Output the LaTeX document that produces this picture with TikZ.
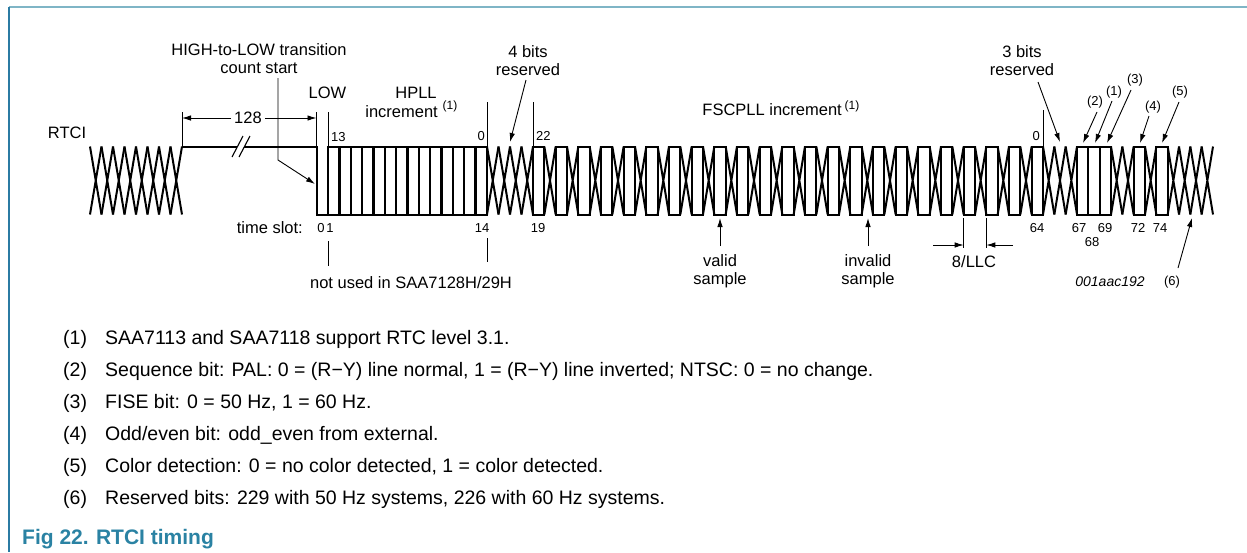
\documentclass[tikz,border=0pt]{standalone}
\usepackage{fontspec}
\setmainfont{Liberation Sans}
\usetikzlibrary{arrows.meta}
\definecolor{frametop}{HTML}{7FB5C6}
\definecolor{frameleft}{HTML}{2B7BA3}
\definecolor{figcol}{HTML}{2A82A3}
\newcommand\sigX[2]{\draw[sig] (#1,146.5) -- ({#1+#2},214.5) (#1,214.5) -- ({#1+#2},146.5);}
\newcommand\sigBox[2]{\draw[sig] (#1,146.5) rectangle ({#1+#2},214.5);}
\begin{document}
\begin{tikzpicture}[x=1pt,y=-1pt,
  sig/.style={line width=2pt, line join=miter},
  thinl/.style={line width=0.9pt},
  arr/.style={line width=0.9pt,-{Latex[length=9pt,width=5.5pt]}},
  lab/.style={font=\fontsize{16.5}{18}\selectfont, inner sep=0pt},
  num/.style={font=\fontsize{13}{15}\selectfont, inner sep=0pt},
  sup/.style={font=\fontsize{12}{14}\selectfont, inner sep=0pt},
  note/.style={font=\fontsize{19.5}{21}\selectfont, inner sep=0pt, anchor=base west}]
\useasboundingbox (0,0) rectangle (1247,552);
% frame
\draw[frametop, line width=2.5pt] (9,7) -- (1247,7);
\draw[frameleft, line width=1.2pt] (9,7) -- (9,552);
% left crosshatch
\foreach \i in {0,...,7} {\pgfmathsetmacro\xa{90+\i*11.5}\sigX{\xa}{11.5}}
% high line with break
\draw[sig] (182,146.5) -- (237,146.5);
\draw[sig] (244,146.5) -- (316.5,146.5) -- (316.5,214.5) -- (328,214.5) -- (328,146.5);
\draw[line width=1.1pt] (232,157) -- (243,136);
\draw[line width=1.1pt] (239,157) -- (250,136);
% HPLL slots
\draw[sig] (328,146.5) rectangle (487,214.5);
\foreach \i in {1,...,13} {\pgfmathsetmacro\xa{328+\i*159/14}\draw[line width=2.4pt] (\xa,146.5) -- (\xa,214.5);}
% 4 bits reserved
\foreach \i in {0,...,3} {\pgfmathsetmacro\xa{487+\i*11.5}\sigX{\xa}{11.5}}
% FSCPLL
\foreach \i in {0,...,22} {\pgfmathsetmacro\xa{533+2*\i*11.3333}\sigBox{\xa}{11.3333}}
\foreach \i in {0,...,21} {\pgfmathsetmacro\xa{533+(2*\i+1)*11.3333}\sigX{\xa}{11.3333}}
% 3 bits reserved
\foreach \i in {0,...,2} {\pgfmathsetmacro\xa{1043+\i*11.3333}\sigX{\xa}{11.3333}}
% bits 67-69
\draw[sig] (1077,146.5) rectangle (1111,214.5);
\draw[sig] (1088.33,146.5) -- (1088.33,214.5) (1099.67,146.5) -- (1099.67,214.5);
\sigX{1111}{11.3333}
\sigX{1122.33}{11.3333}
\sigBox{1133.67}{11.3333}
\sigX{1145}{11.3333}
\sigBox{1156.33}{11.3333}
\foreach \i in {0,...,3} {\pgfmathsetmacro\xa{1167.67+\i*11.3333}\sigX{\xa}{11.3333}}
% markers and labels
\node[lab] (rtci) at (67,133) {RTCI};
\node[lab, align=center] (hl) at (259,59) {HIGH-to-LOW transition\\count start};
\draw[arr] (278,78) -- (278,160) -- (315,184);
\draw[thinl] (182,112) -- (182,146.5);
\draw[thinl] (316.5,112) -- (316.5,146.5);
\draw[thinl] (328,112) -- (328,146.5);
\node[lab] (n128) at (248,118) {128};
\draw[arr] (n128.west) ++(-3,0) -- (182,118);
\draw[arr] (n128.east) ++(3,0) -- (316.5,118);
\node[lab] (low) at (327.5,93) {LOW};
\node[num, anchor=west] (n13) at (331,137) {13};
\node[lab] (hpll) at (416,93) {HPLL};
\node[lab, anchor=east] (incr) at (438,112) {increment};
\node[sup] (s1) at (450,106) {(1)};
\draw[thinl] (487,102) -- (487,146.5);
\node[num, anchor=east] (z1) at (485,136) {0};
\draw[thinl] (533,102) -- (533,146.5);
\node[num, anchor=west] (n22) at (536,136) {22};
\node[lab, align=center] (r4) at (528,61) {4 bits\\reserved};
\draw[arr] (526,80) -- (510,142);
\node[lab, anchor=east] (fsc) at (842,110) {FSCPLL increment};
\node[sup] (s2) at (852,106) {(1)};
\node[lab, align=center] (r3) at (1022,61) {3 bits\\reserved};
\draw[arr] (1038,82) -- (1060,142);
\draw[thinl] (1043,110) -- (1043,146.5);
\node[num, anchor=east] (z2) at (1040,136) {0};
\node[num] (f2) at (1095,102) {(2)};
\draw[arr] (1097,112) -- (1083,143);
\node[num] (f1) at (1114,92) {(1)};
\draw[arr] (1112,101) -- (1095,143);
\node[num] (f3) at (1135,80) {(3)};
\draw[arr] (1131,90) -- (1107,143);
\node[num] (f4) at (1153,107) {(4)};
\draw[arr] (1149,116) -- (1140,143);
\node[num] (f5) at (1180,92) {(5)};
\draw[arr] (1179,102) -- (1162,143);
\node[num] (f6) at (1172,282) {(6)};
\draw[arr] (1178,268) -- (1192,218);
\node[font=\fontsize{14}{16}\selectfont\itshape, inner sep=0pt] (code) at (1110,282) {001aac192};
% below
\node[lab, anchor=east] (ts) at (303,228) {time slot:};
\node[num] (t0) at (321,228) {0};
\node[num] (t1) at (330,228) {1};
\node[num] (t14) at (482,228) {14};
\node[num] (t19) at (538,228) {19};
\draw[thinl] (328,241) -- (328,266);
\draw[thinl] (487,238) -- (487,262);
\node[lab] (nu) at (411,283) {not used in SAA7128H/29H};
\draw[arr] (720,246) -- (720,218);
\node[lab, align=center] (vs) at (720,271) {valid\\sample};
\draw[arr] (868,246) -- (868,218);
\node[lab, align=center] (ivs) at (868,271) {invalid\\sample};
\draw[thinl] (963.7,218) -- (963.7,248);
\draw[thinl] (986.3,218) -- (986.3,248);
\draw[arr] (933,245) -- (963.7,245);
\draw[arr] (1013,245) -- (986.3,245);
\node[lab] (llc) at (974,262) {8/LLC};
\node[num] (t64) at (1037,228) {64};
\node[num] (t67) at (1079,228) {67};
\node[num] (t68) at (1092,242) {68};
\node[num] (t69) at (1105,228) {69};
\node[num] (t72) at (1138,228) {72};
\node[num] (t74) at (1160,228) {74};
% footnotes
\node[note] (a1) at (63,344) {(1)};
\node[note] (b1) at (105,344) {SAA7113 and SAA7118 support RTC level 3.1.};
\node[note] (a2) at (63,376) {(2)};
\node[note] (b2) at (105,376) {Sequence bit: PAL: 0 = (R−Y) line normal, 1 = (R−Y) line inverted; NTSC: 0 = no change.};
\node[note] (a3) at (63,408) {(3)};
\node[note] (b3) at (105,408) {FISE bit: 0 = 50 Hz, 1 = 60 Hz.};
\node[note] (a4) at (63,440) {(4)};
\node[note] (b4) at (105,440) {Odd/even bit: odd\_even from external.};
\node[note] (a5) at (63,472) {(5)};
\node[note] (b5) at (105,472) {Color detection: 0 = no color detected, 1 = color detected.};
\node[note] (a6) at (63,504) {(6)};
\node[note] (b6) at (105,504) {Reserved bits: 229 with 50 Hz systems, 226 with 60 Hz systems.};
\node[font=\fontsize{21}{23}\selectfont\bfseries, text=figcol, inner sep=0pt, anchor=base west] (cap) at (22,544) {Fig 22.\hspace{0.35em}RTCI timing};
\end{tikzpicture}
\end{document}
